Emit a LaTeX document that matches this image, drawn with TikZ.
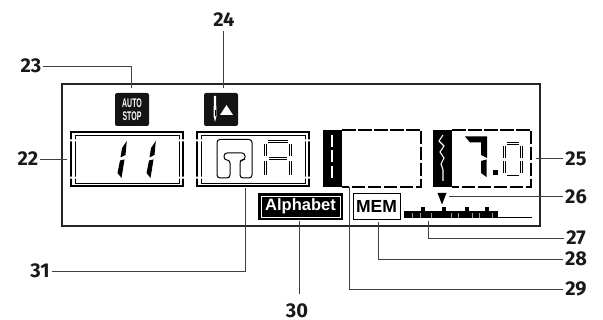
\documentclass[tikz,border=0pt]{standalone}
\usepackage{fontspec}
\setmainfont{Fira Sans}
\newfontfamily\arialf{Liberation Sans}
\tikzset{
  every node/.style={inner sep=0pt,outer sep=0pt},
  lab/.style={font=\fontsize{20}{20}\selectfont\bfseries,text=black!90,inner sep=2pt},
  leader/.style={draw=black!75,line width=0.9pt},
  iconbox/.style={fill=black!92,rounded corners=2pt,minimum width=34pt,minimum height=33pt},
  dashframe/.style={draw=black,line width=1.2pt,dash pattern=on 13.5pt off 2.5pt},
  segouter/.style={draw=black,line width=2.6pt},
  seginner/.style={draw=white,line width=.9pt},
}
\newcommand{\segm}[2]{\draw[segouter] (#1) -- (#2);\draw[seginner] (#1) -- (#2);}
\begin{document}
\begin{tikzpicture}[x=1pt,y=-1pt]
\useasboundingbox (0,0) rectangle (603,320);
% panel
\node[draw=black!85,line width=1.5pt,minimum width=478pt,minimum height=142pt] (panel) at (301,155) {};
% labels
\node[lab] (l22) at (28,159) {22};
\node[lab] (l23) at (31,66) {23};
\node[lab] (l24) at (224,20) {24};
\node[lab] (l25) at (576,158.5) {25};
\node[lab] (l26) at (576,196.5) {26};
\node[lab] (l27) at (576,238) {27};
\node[lab] (l28) at (576,259) {28};
\node[lab] (l29) at (576,289) {29};
\node[lab] (l30) at (297,310.5) {30};
\node[lab] (l31) at (40,271) {31};
% icons
\node[iconbox,text=white,align=center,font=\arialf\bfseries\fontsize{12.5}{12.5}\selectfont] (autostop) at (132,109.5) {\scalebox{.56}[1]{AUTO}\\\scalebox{.56}[1]{STOP}};
\node[iconbox] (needle) at (221,109.5) {};
\fill[white] (214,96) -- (216,96) -- (216.5,116) -- (215,122) -- (213.5,116) -- cycle;
\fill[black] (214.8,110) rectangle (215.3,116);
\fill[white] (220,115) -- (226.5,105) -- (233,115) -- cycle;
% display 1
\node[draw=black,line width=2.5pt,minimum width=112pt,minimum height=54pt] (d1) at (127,159) {};
\node[draw=black,line width=.8pt,minimum width=104pt,minimum height=48pt] (d1i) at (127,159) {};
\fill[white] (68,139.3) rectangle (77,141.3) (68,176.7) rectangle (77,178.7) (177,139.3) rectangle (186,141.3) (177,176.7) rectangle (186,178.7);
\foreach \dx in {0,29}{
  \fill[black] (126.8+\dx,141) -- (125.5+\dx,155) -- (120.5+\dx,157.5) -- (122+\dx,148) -- cycle;
  \fill[black] (120+\dx,160.5) -- (124.5+\dx,159.5) -- (121.5+\dx,178) -- (117.5+\dx,173) -- cycle;
}
% display 2
\node[draw=black,line width=2.5pt,minimum width=112pt,minimum height=54pt] (d2) at (253,159) {};
\node[draw=black,line width=.8pt,minimum width=104pt,minimum height=48pt] (d2i) at (253,159) {};
\fill[white] (194,139.3) rectangle (203,141.3) (194,176.7) rectangle (203,178.7) (303,139.3) rectangle (312,141.3) (303,176.7) rectangle (312,178.7);
\draw[black,line width=1pt,rounded corners=3pt] (217,139.5) -- (217,178) -- (230,178) -- (230,160) -- (224,160) -- (224,153) -- (245,153) -- (245,160) -- (240,160) -- (240,178) -- (252,178) -- (252,139.5) -- cycle;
\segm{268,141.5}{288,141.5}
\segm{269,158.5}{287,158.5}
\segm{265.5,144}{265.5,156.5}
\segm{290.5,144}{290.5,156.5}
\segm{265.5,161}{265.5,175}
\segm{290.5,161}{290.5,175}
% display 3
\node[fill=black,minimum width=19pt,minimum height=57pt] (bar3) at (332.5,158.5) {};
\draw[dashframe] (bar3.north east) -- (421,130) -- (421,187) -- (bar3.south east);
\draw[white,line width=1.3pt,dash pattern=on 12pt off 3.5pt] (332,135) -- (332,181);
% display 4
\node[fill=black,minimum width=19pt,minimum height=57pt] (bar4) at (442.5,158.5) {};
\draw[dashframe] (bar4.north east) -- (531,130) -- (531,187) -- (bar4.south east);
\draw[white,line width=1.1pt] (443,135) -- (439,141) -- (444,146) -- (440,152) -- (444,158) -- (441,164) -- (443,170) -- (443,181);
\fill[black] (465,136.5) -- (487,136.5) -- (487,158) -- (481,155) -- (481,142.5) -- (470,142.5) -- cycle;
\fill[black] (481,161) -- (486.5,159.5) -- (486.5,177) -- (481,173) -- cycle;
\fill[black] (493,170) rectangle (498,175.5);
\segm{507,143.5}{519,143.5}
\segm{507,176}{519,176}
\segm{504.5,146}{504.5,158.5}
\segm{521.5,146}{521.5,158.5}
\segm{504.5,161}{504.5,173.5}
\segm{521.5,161}{521.5,173.5}
% triangle
\node (tri) at (442,198) {};
\fill[black] (437.5,193) -- (446.5,193) -- (442,204.5) -- cycle;
% alphabet, mem
\node[fill=black,minimum width=85pt,minimum height=27pt] (alpha) at (300.5,206.5) {};
\node[draw=white,line width=.7pt,minimum width=79pt,minimum height=21pt,text=white,font=\arialf\bfseries\fontsize{16.5}{16.5}\selectfont] at (300.5,206.5) {Alphabet};
\node[draw=black,line width=.9pt,fill=white,minimum width=47pt,minimum height=26pt,font=\arialf\bfseries\fontsize{17.5}{17.5}\selectfont] (mem) at (376.5,206) {MEM};
% ruler
\node[minimum width=94pt,minimum height=7pt,fill=black] (ruler) at (451,214.5) {};
\draw[black,line width=1pt] (ruler.east |- 0,217.5) -- (532,217.5);
\foreach \x in {421,441.5,465,485}{\fill[black] (\x,207.5) rectangle (\x+4,211.5);}
\foreach \x in {412,420,431,451,458,472,479,492}{\fill[white!60!black] (\x,213) rectangle (\x+.8,218);}
% leaders
\coordinate (e23) at (131,88);
\coordinate (s24) at (223,31);
\coordinate (e24) at (223,88);
\coordinate (e22) at (67,159);
\coordinate (e25) at (536,158.5);
\coordinate (e26) at (449,196.5);
\coordinate (e27) at (428,221);
\coordinate (e28) at (378,222);
\coordinate (e29) at (349,187.5);
\coordinate (s30) at (299,294);
\coordinate (e30) at (299,221);
\coordinate (e31) at (245,188);
\draw[leader] (l23.east) -| (e23);
\draw[leader] (s24) -- (e24);
\draw[leader] (l22.east) -- (e22);
\draw[leader] (l25.west) -- (e25);
\draw[leader] (l26.west) -- (e26);
\draw[leader] (l27.west) -| (e27);
\draw[leader] (l28.west) -| (e28);
\draw[leader] (l29.west) -| (e29);
\draw[leader] (e30) -- (s30);
\draw[leader] (l31.east) -| (e31);
\end{tikzpicture}
\end{document}
